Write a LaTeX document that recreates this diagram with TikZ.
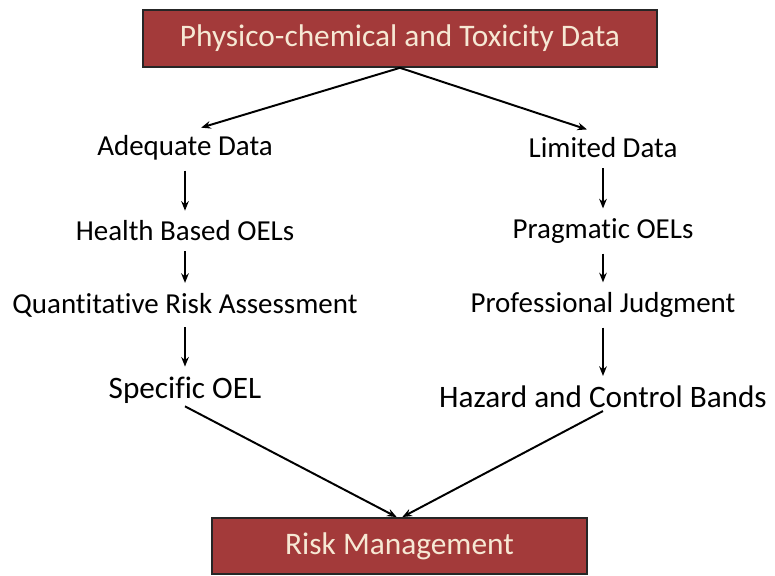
\documentclass[tikz,border=0pt]{standalone}
\usepackage{fontspec}
\setmainfont{Carlito}[Ligatures=NoCommon]
\usetikzlibrary{arrows.meta}

\definecolor{boxred}{RGB}{163,58,58}
\definecolor{boxtext}{RGB}{246,232,212}

\begin{document}
\begin{tikzpicture}[x=0.025cm, y=-0.025cm, >={Stealth[length=2.4mm,width=1.9mm]}]
\tikzset{hdr/.style={draw=black!85, line width=1.3pt, fill=boxred, text=boxtext, rectangle, font=\fontsize{22.3}{26}\selectfont},
         lbl/.style={inner sep=2pt, font=\fontsize{20.6}{24}\selectfont},
         big/.style={inner sep=2pt, font=\fontsize{22.2}{26}\selectfont},
         conn/.style={->, line width=1.4pt}}

\useasboundingbox (0,0) rectangle (775,576);

% Boxes
\node[hdr, minimum width=12.85cm, minimum height=1.42cm] (data) at (400,38.5) {Physico-chemical and Toxicity Data};
\node[hdr, minimum width=9.37cm, minimum height=1.4cm] (risk) at (399.5,546) {Risk Management};

% Left branch
\node[lbl] (adq) at (185,148) {Adequate Data};
\node[lbl] (hbo) at (185,231) {Health Based OELs};
\node[lbl] (qra) at (185,305) {Quantitative Risk Assessment};
\node[big] (soel) at (185,390) {Specific OEL};

% Right branch
\node[lbl] (lim) at (603,148) {Limited Data};
\node[lbl] (prag) at (603,231) {Pragmatic OELs};
\node[lbl] (prof) at (603,305) {Professional Judgment};
\node[big] (hcb) at (603,397) {Hazard and Control Bands};

% Connections
\draw[conn, shorten >=12pt] (data.south) -- (adq.north);
\draw[conn, shorten >=12pt] (data.south) -- (lim.north);

\draw[conn, shorten <=5pt, shorten >=5pt] (adq) -- (hbo);
\draw[conn, shorten <=5pt, shorten >=5pt] (hbo) -- (qra);
\draw[conn, shorten <=5pt, shorten >=5pt] (qra) -- (soel);

\draw[conn, shorten <=5pt, shorten >=5pt] (lim) -- (prag);
\draw[conn, shorten <=5pt, shorten >=5pt] (prag) -- (prof);
\draw[conn, shorten <=5pt, shorten >=5pt] (prof) -- (hcb);

\draw[conn] (soel.south) -- ([xshift=-2pt]risk.north);
\draw[conn] (hcb.south) -- ([xshift=2pt]risk.north);

\end{tikzpicture}
\end{document}
